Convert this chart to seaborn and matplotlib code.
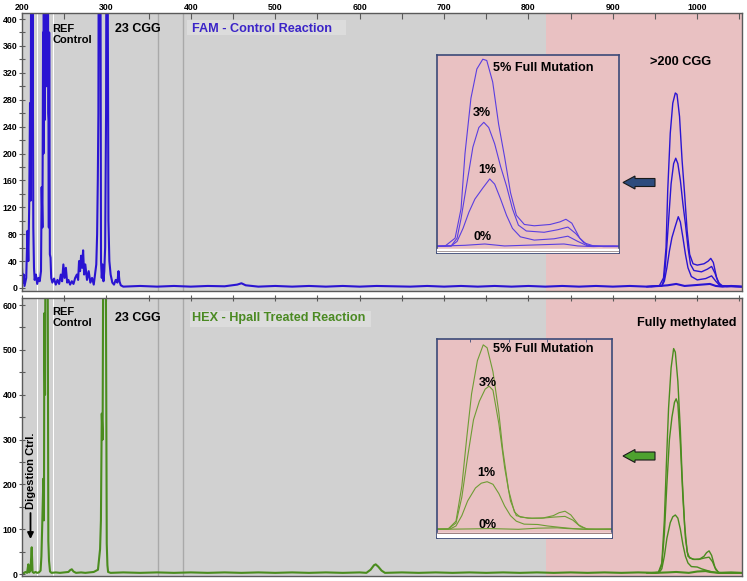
import matplotlib
matplotlib.use('Agg')
import matplotlib.pyplot as plt
import seaborn as sns
from matplotlib.patches import Polygon, Rectangle

# ============================================================
# DATA (size in bp, signal in RFU)
# ============================================================

# FAM - control reaction, main trace (left peaks + baseline + 0% sample)
fam_x = [200, 201, 202, 203, 205, 206.5, 207.5, 208.5, 209.5, 210.3, 211, 211.4,
         211.8, 212.2, 212.6, 213.4, 214.2, 215, 216.5, 218, 219.5, 221, 222.5,
         223.3, 224.2, 225, 225.5, 225.8, 226.2, 226.6, 227, 227.4, 227.8, 228.2,
         228.6, 229, 229.4, 229.8, 230.2, 230.6, 231, 231.4, 231.8, 232.2, 233,
         233.8, 234.6, 236, 238, 240, 242, 244, 246, 247.5, 249, 250.5, 252,
         253.5, 255, 257, 259, 261, 263, 265, 266.5, 267.6, 268.8, 270, 271.2,
         272.4, 273.6, 275, 277, 279, 281, 283, 285, 287, 288, 289, 289.8, 290.5,
         291.2, 292, 292.8, 293.6, 294.5, 295.5, 296.5, 297.5, 298.5, 299.6,
         300.3, 301, 301.7, 302.4, 303.5, 305, 307, 309, 311, 313, 314.3, 315.5,
         317, 320, 340, 360, 380, 400, 420, 440, 455, 460, 465, 480, 500, 520,
         540, 560, 580, 600, 620, 640, 660, 680, 700, 720, 740, 760, 780, 800,
         820, 840, 860, 880, 900, 920, 940, 955, 965, 975, 985, 995, 1005, 1015,
         1022, 1030, 1040, 1053]
fam_y = [30, 8, 20, 3, 15, 85, 40, 120, 275, 130, 650, 300,
         900, 250, 420, 90, 30, 12, 20, 6, 15, 10, 25,
         150, 90, 380, 200, 1200, 350, 600, 250, 1500, 420, 800,
         300, 1400, 380, 500, 320, 900, 260, 250, 90, 380, 50,
         45, 15, 8, 14, 5, 12, 6, 20, 10, 35, 15, 30,
         8, 12, 5, 10, 6, 15, 20, 12, 40, 25, 48, 30,
         56, 20, 35, 12, 25, 8, 15, 5, 25, 35, 80, 160, 260,
         700, 1200, 600, 40, 15, 35, 10, 25, 60, 260,
         700, 900, 390, 100, 40, 20, 8, 5, 12, 8, 25, 10,
         4, 2, 3, 2, 3, 2, 3, 2.5, 5, 7, 4, 2, 3, 2,
         3, 2, 3, 2, 3, 2.5, 2, 3, 2, 3, 2, 3, 2, 3,
         2, 3, 2, 3, 2, 3, 2, 3, 4, 6, 3, 4, 5, 6,
         3, 2, 3, 2]

# FAM - full mutation spikes (5%, 3%, 1%)
fam5_x = [940, 955, 960, 963, 965, 968, 971, 974, 976, 979, 982, 985, 988, 991,
          995, 1000, 1008, 1013, 1016, 1019, 1023, 1027, 1035, 1053]
fam5_y = [2, 3, 15, 60, 145, 230, 275, 290, 288, 255, 190, 140, 85, 50,
          36, 34, 36, 40, 44, 38, 15, 4, 2, 2]
fam3_x = [940, 958, 961, 963, 966, 969, 972, 974.5, 977, 980, 983, 986, 989,
          992, 996, 1005, 1012, 1017, 1021, 1025, 1030, 1053]
fam3_y = [2, 3, 15, 45, 100, 155, 185, 193, 185, 160, 125, 95, 60,
          35, 26, 24, 28, 32, 22, 8, 3, 2]
fam1_x = [945, 958, 961, 964, 967, 970, 974, 977.5, 980, 983, 986, 989, 993,
          1000, 1010, 1017, 1022, 1027, 1053]
fam1_y = [2, 3, 10, 30, 55, 75, 92, 106, 98, 75, 50, 30, 17,
          12, 14, 18, 10, 3, 2]

# HEX - HpaII treated reaction, main trace
hex_x = [200, 202, 204, 206, 207.5, 208.5, 210, 211.5, 212.5, 214, 216, 218, 220,
         222, 223, 224, 225.3, 226, 226.5, 227.3, 228, 228.8, 229.5, 230.3,
         231.2, 232, 233.2, 235, 240, 245, 250, 255, 257, 259, 261, 264, 270,
         275, 280, 285, 290, 292.5, 293.5, 294.5, 295.5, 296.5, 297.5, 298.5,
         299.3, 300.4, 301.2, 302, 305, 320, 340, 360, 380, 400, 420, 440, 460,
         480, 500, 520, 540, 560, 580, 600, 608, 613, 617, 619, 622, 626, 630,
         650, 670, 690, 710, 730, 750, 770, 790, 810, 830, 850, 870, 890, 910,
         930, 950, 965, 975, 990, 1000, 1010, 1015, 1025, 1040, 1053]
hex_y = [4, 2, 5, 3, 22, 4, 8, 60, 5, 3, 5, 3, 4,
         8, 40, 112, 213, 120, 582, 400, 900, 700, 1100, 800,
         74, 30, 6, 3, 4, 3, 4, 5, 9, 11, 6, 3, 4,
         3, 4, 5, 10, 56, 120, 358, 300, 900, 1100, 950,
         700, 68, 20, 5, 3, 4, 3, 4, 3, 4, 3, 4, 3,
         4, 3, 4, 3, 4, 3, 4, 3, 10, 20, 22, 17, 8, 3,
         4, 3, 4, 3, 4, 3, 4, 3, 4, 3, 4, 3, 4, 3,
         4, 3, 4, 5, 3, 6, 7, 5, 3, 4, 3]

# HEX - methylated full mutation (5%, 3%, 1%)
hex5_x = [940, 954, 958, 961, 963.5, 966, 969, 972, 974, 977, 980, 982, 985,
          988, 991, 997, 1003, 1008, 1011, 1014, 1017, 1021, 1025, 1030, 1053]
hex5_y = [3, 4, 25, 120, 250, 370, 460, 503, 495, 430, 320, 220, 110,
          50, 36, 33, 34, 40, 48, 52, 42, 15, 4, 3, 3]
hex3_x = [940, 954, 958, 961, 964, 967, 970, 973, 975, 977, 980, 983, 986, 989,
          995, 1002, 1008, 1014, 1018, 1022, 1026, 1053]
hex3_y = [3, 4, 20, 90, 200, 300, 350, 383, 391, 380, 290, 170, 80, 40,
          33, 33, 36, 38, 28, 10, 3, 3]
hex1_x = [945, 955, 958, 961, 964, 968, 971, 974, 977, 980, 983, 986, 989, 993,
          1000, 1005, 1012, 1018, 1025, 1053]
hex1_y = [3, 4, 12, 40, 80, 115, 128, 132, 125, 100, 66, 40, 25, 17,
          16, 12, 8, 5, 3, 3]

fam_ticks = list(range(0, 401, 40))
hex_ticks = list(range(0, 601, 100))
size_ticks = list(range(200, 1001, 100))

# ============================================================
# STYLE
# ============================================================

W, H = 747, 581
GRAY = '#d1d1d1'
PINK = '#e9c1c2'
BLUE = '#2a14d2'
BLUE_LT = '#5a3ee0'
GREEN = '#4a8c1e'
GREEN_LT = '#6e9c34'
SPINE = '#5a5a5a'

sns.set_style('white')
plt.rcParams['font.family'] = ['Liberation Sans', 'DejaVu Sans']
plt.rcParams['font.weight'] = 'bold'
plt.rcParams['text.color'] = 'black'
plt.rcParams['xtick.labelcolor'] = 'black'
plt.rcParams['ytick.labelcolor'] = 'black'


def fx(px):
    return px / W


def fy(py):
    return 1 - py / H


def trace(ax, x, y, color, lw):
    sns.lineplot(x=x, y=y, ax=ax, color=color, linewidth=lw,
                 estimator=None, sort=False, legend=False)


def backdrop(ax):
    ax.axvspan(200, 820.4, color=GRAY, lw=0, zorder=0)
    ax.axvspan(820.4, 1060, color=PINK, lw=0, zorder=0)
    ax.axvspan(217.3, 219.3, color='white', lw=0, zorder=0.5)
    ax.axvspan(236.2, 237.8, color='white', lw=0, zorder=0.5)
    for v in (361.3, 391.3):
        ax.axvline(v, color='#a9a9a9', lw=1, zorder=0.5)


def frame(ax, c=SPINE, lw=1):
    for s in ax.spines.values():
        s.set_visible(True)
        s.set_color(c)
        s.set_linewidth(lw)


fig = plt.figure(figsize=(W / 100, H / 100), dpi=100)

# ============================================================
# TOP PANEL - FAM
# ============================================================

ax1 = fig.add_axes([fx(22), fy(291), 720 / W, 278 / H])
backdrop(ax1)
trace(ax1, fam_x, fam_y, BLUE, 1.5)
for xs, ys in ((fam5_x, fam5_y), (fam3_x, fam3_y), (fam1_x, fam1_y)):
    trace(ax1, xs, ys, BLUE, 1.0)
ax1.set_xlim(200, 1053)
ax1.set_ylim(-4.5, 409)
ax1.xaxis.tick_top()
ax1.set_xticks(size_ticks)
ax1.set_xticks(list(range(250, 1051, 100)), minor=True)
ax1.set_yticks(fam_ticks)
ax1.set_yticks(list(range(20, 401, 40)), minor=True)
ax1.tick_params(axis='x', which='both', direction='in', length=4, width=0.8,
                color=SPINE, labelsize=6.3, pad=1, top=True, bottom=False)
ax1.tick_params(axis='y', which='both', direction='inout', length=5, width=0.8,
                color=SPINE, labelsize=6.3, pad=1, left=True)
ax1.set_xlabel('')
ax1.set_ylabel('')
frame(ax1)

# ============================================================
# BOTTOM PANEL - HEX
# ============================================================

ax2 = fig.add_axes([fx(22), fy(576), 720 / W, 278 / H])
backdrop(ax2)
trace(ax2, hex_x, hex_y, GREEN, 1.5)
for xs, ys in ((hex5_x, hex5_y), (hex3_x, hex3_y), (hex1_x, hex1_y)):
    trace(ax2, xs, ys, GREEN, 1.0)
ax2.set_xlim(200, 1053)
ax2.set_ylim(-4, 615.7)
ax2.xaxis.tick_top()
ax2.set_xticks(size_ticks)
ax2.set_xticks(list(range(250, 1051, 100)), minor=True)
ax2.set_xticklabels([])
ax2.set_yticks(hex_ticks)
ax2.set_yticks(list(range(50, 601, 100)), minor=True)
ax2.tick_params(axis='x', which='both', direction='inout', length=5, width=0.8,
                color=SPINE, top=True, bottom=False)
ax2.tick_params(axis='y', which='both', direction='inout', length=5, width=0.8,
                color=SPINE, labelsize=6.3, pad=1, left=True)
ax2.set_xlabel('')
ax2.set_ylabel('')
frame(ax2)

# ============================================================
# INSETS
# ============================================================

in1 = fig.add_axes([fx(437.3), fy(253.3), 182 / W, 198 / H])
in1.set_facecolor(PINK)
trace(in1, fam_x, fam_y, BLUE_LT, 0.8)
for xs, ys in ((fam5_x, fam5_y), (fam3_x, fam3_y), (fam1_x, fam1_y)):
    trace(in1, xs, ys, BLUE_LT, 0.8)
in1.axhspan(-9, -2, color='white', zorder=3)
in1.axhline(-5, color='#9a8a8a', lw=0.6, zorder=3)
in1.set_xlim(951, 1043)
in1.set_ylim(-8.3, 296)
in1.set_xticks([])
in1.set_yticks([])
in1.set_xlabel('')
in1.set_ylabel('')
frame(in1, '#3c4a78', 1.2)

in2 = fig.add_axes([fx(437.3), fy(538.3), 174.4 / W, 199 / H])
in2.set_facecolor(PINK)
trace(in2, hex_x, hex_y, GREEN_LT, 0.8)
for xs, ys in ((hex5_x, hex5_y), (hex3_x, hex3_y), (hex1_x, hex1_y)):
    trace(in2, xs, ys, GREEN_LT, 0.8)
in2.axhspan(-25, -6, color='white', zorder=3)
in2.axhline(-6, color='#8a6a6a', lw=0.6, zorder=3)
in2.set_xlim(948.4, 1038)
in2.set_ylim(-21.4, 518)
in2.set_xticks([965, 985, 1005, 1025])
in2.set_xticklabels([])
in2.set_yticks([])
in2.tick_params(axis='x', direction='in', length=2, width=0.6, color='#3c4a78',
                top=True, bottom=False)
in2.set_xlabel('')
in2.set_ylabel('')
frame(in2, '#3c4a78', 1.2)

# ============================================================
# ANNOTATIONS
# ============================================================

fig.add_artist(Rectangle((fx(187), fy(35)), 159 / W, 15 / H,
                         transform=fig.transFigure, color='#dcdcdc', lw=0))
fig.add_artist(Rectangle((fx(190), fy(327)), 181 / W, 16 / H,
                         transform=fig.transFigure, color='#dcdcdc', lw=0))

fig.text(fx(192), fy(29), 'FAM - Control Reaction', color='#3b24c8',
         fontsize=9.1, ha='left', va='center')
fig.text(fx(192), fy(318.5), 'HEX - HpaII Treated Reaction', color='#4b8a23',
         fontsize=9.1, ha='left', va='center')

for py in (34.5, 317.5):
    fig.text(fx(52.5), fy(py), 'REF\nControl', fontsize=8, ha='left',
             va='center', linespacing=1.15)
fig.text(fx(115), fy(29), '23 CGG', fontsize=9, ha='left', va='center')
fig.text(fx(115), fy(318), '23 CGG', fontsize=9, ha='left', va='center')
fig.text(fx(650), fy(62), '>200 CGG', fontsize=9.2, ha='left', va='center')
fig.text(fx(637), fy(323), 'Fully methylated', fontsize=9.1, ha='left',
         va='center')

fig.text(fx(493), fy(68), '5% Full Mutation', fontsize=9.1, ha='left',
         va='center')
fig.text(fx(481.7), fy(112.7), '3%', fontsize=9, ha='center', va='center')
fig.text(fx(487), fy(170), '1%', fontsize=9, ha='center', va='center')
fig.text(fx(482.7), fy(237), '0%', fontsize=9, ha='center', va='center')

fig.text(fx(493), fy(349.5), '5% Full Mutation', fontsize=9.1, ha='left',
         va='center')
fig.text(fx(488), fy(383), '3%', fontsize=9, ha='center', va='center')
fig.text(fx(486.7), fy(473), '1%', fontsize=9, ha='center', va='center')
fig.text(fx(488), fy(525), '0%', fontsize=9, ha='center', va='center')

fig.text(fx(30.8), fy(471), 'Digestion Ctrl.', fontsize=8, rotation=90,
         ha='center', va='center')
fig.add_artist(plt.Annotation('', xy=(fx(30.5), fy(539)),
                              xytext=(fx(30.5), fy(513)),
                              xycoords='figure fraction',
                              arrowprops=dict(arrowstyle='-|>', color='black',
                                              lw=1.3, mutation_scale=9,
                                              shrinkA=0, shrinkB=0)))

# block arrows pointing to the insets
for cy, face in ((182.5, '#2d4b7d'), (456, '#4ea22f')):
    pts = [(623, cy), (635, cy - 6.5), (635, cy - 4), (655, cy - 4),
           (655, cy + 4), (635, cy + 4), (635, cy + 6.5)]
    fig.add_artist(Polygon([(fx(a), fy(b)) for a, b in pts], closed=True,
                           transform=fig.transFigure, facecolor=face,
                           edgecolor='#1a1a1a', lw=0.8))

plt.savefig('out.png', dpi=100)
plt.close()
